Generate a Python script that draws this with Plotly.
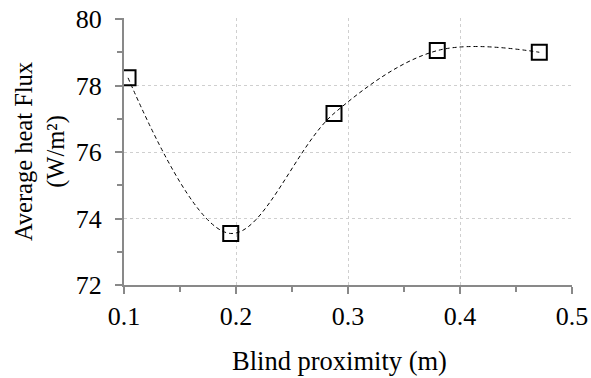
import plotly.graph_objects as go

x_vals = [0.1036, 0.1953, 0.2875, 0.3797, 0.4708]
y_vals = [78.23, 73.55, 77.16, 79.05, 79.00]
x_ticks = [0.1, 0.2, 0.3, 0.4, 0.5]
x_labels = ["0.1", "0.2", "0.3", "0.4", "0.5"]
y_ticks = [72, 74, 76, 78, 80]
y_labels = ["72", "74", "76", "78", "80"]
x_title = "Blind proximity (m)"
y_title = "Average heat Flux<br>(W/m²)"

FONT = "Liberation Serif"
AXIS = "#898989"
GRID = "#cfcfcf"

fig = go.Figure()
fig.add_trace(go.Scatter(
    x=x_vals, y=y_vals, mode="lines",
    line=dict(shape="spline", smoothing=1.0, color="black", width=1, dash="4px,3px"),
    hoverinfo="skip", showlegend=False,
))
fig.add_trace(go.Scatter(
    x=x_vals, y=y_vals, mode="markers",
    marker=dict(symbol="square-open", size=15, color="black", line=dict(width=2, color="#111111")),
    showlegend=False,
))

fig.update_layout(
    width=591, height=378,
    margin=dict(l=124, r=19, t=18, b=93),
    paper_bgcolor="white", plot_bgcolor="white",
    font=dict(family=FONT, size=26, color="black"),
)
fig.update_xaxes(
    range=[0.1, 0.5], tickvals=x_ticks, ticktext=x_labels, automargin=False,
    showline=True, linecolor=AXIS, linewidth=2,
    ticks="outside", ticklen=7, tickwidth=2, tickcolor=AXIS,
    minor=dict(dtick=0.05, ticks="outside", ticklen=5, tickwidth=2, tickcolor=AXIS, showgrid=False),
    showgrid=True, gridcolor=GRID, griddash="dot", gridwidth=1,
    zeroline=False, ticklabelstandoff=0, ticklabeloverflow="allow",
    tickfont=dict(family=FONT, size=26),
)
fig.update_yaxes(
    range=[72, 80.03], tickvals=y_ticks, ticktext=y_labels, automargin=False,
    showline=True, linecolor=AXIS, linewidth=2,
    ticks="outside", ticklen=7, tickwidth=2, tickcolor=AXIS,
    minor=dict(dtick=1, ticks="outside", ticklen=5, tickwidth=2, tickcolor=AXIS, showgrid=False),
    showgrid=True, gridcolor=GRID, griddash="dot", gridwidth=1,
    zeroline=False, ticklabelstandoff=8, ticklabeloverflow="allow",
    tickfont=dict(family=FONT, size=26),
    title=dict(text=y_title, font=dict(family=FONT, size=24.5), standoff=4),
)
fig.add_annotation(
    text=x_title, xref="paper", yref="paper", x=0.48, y=-0.285,
    xanchor="center", yanchor="middle", showarrow=False,
    font=dict(family=FONT, size=26.5, color="black"),
)

# remove the browser's default 8px body margin so the figure fills the window
fig.write_html(
    "out.html",
    config={"displayModeBar": False},
    post_script="document.body.style.margin='0';document.body.style.overflow='hidden';",
)
